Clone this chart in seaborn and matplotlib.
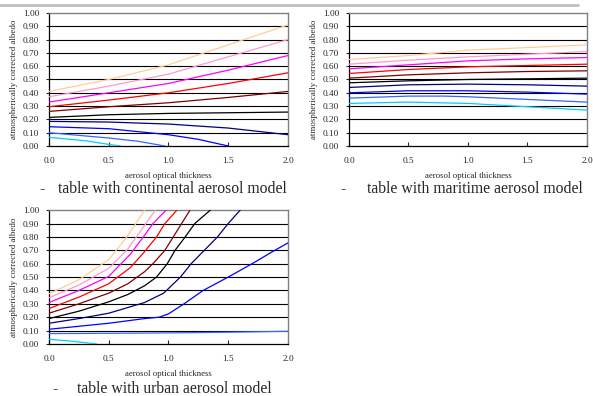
import matplotlib
matplotlib.use("Agg")
import matplotlib.pyplot as plt
from matplotlib.lines import Line2D
import seaborn as sns
import pandas as pd

# curve colours, from the highest albedo curve down to the lowest
curve_colors = ["#FFCC99", "#FF99CC", "#FF00FF", "#FF0000", "#800000",
                "#000000", "#000080", "#0000FF", "#3366FF", "#00CCFF"]

# continental aerosol model
cont_x = [
    [0, 0.5, 1.0, 1.5, 2.0],
    [0, 0.5, 1.0, 1.5, 2.0],
    [0, 0.5, 1.0, 1.5, 2.0],
    [0, 0.5, 1.0, 1.5, 2.0],
    [0, 0.5, 1.0, 1.5, 2.0],
    [0, 0.5, 1.0, 1.5, 2.0],
    [0, 0.5, 1.0, 1.5, 2.0],
    [0, 0.5, 1.0, 1.25, 1.5],
    [0, 0.5, 0.75, 0.97],
    [0, 0.3, 0.5, 0.6],
]
cont_y = [
    [0.41, 0.50, 0.61, 0.76, 0.91],
    [0.37, 0.45, 0.54, 0.67, 0.80],
    [0.33, 0.40, 0.47, 0.57, 0.68],
    [0.295, 0.345, 0.40, 0.47, 0.55],
    [0.26, 0.295, 0.325, 0.365, 0.41],
    [0.215, 0.235, 0.245, 0.25, 0.255],
    [0.185, 0.18, 0.165, 0.135, 0.085],
    [0.145, 0.13, 0.085, 0.05, 0.0],
    [0.10, 0.06, 0.035, 0.0],
    [0.065, 0.04, 0.012, 0.0],
]

# maritime aerosol model
mari_x = [
    [0, 0.5, 1.0, 1.5, 2.0],
    [0, 0.5, 1.0, 1.5, 2.0],
    [0, 0.5, 1.0, 1.5, 2.0],
    [0, 0.5, 1.0, 1.5, 2.0],
    [0, 0.5, 1.0, 1.5, 2.0],
    [0, 0.5, 1.0, 1.5, 2.0],
    [0, 0.5, 1.0, 1.5, 2.0],
    [0, 0.5, 1.0, 1.5, 2.0],
    [0, 0.5, 0.8, 1.0, 1.5, 2.0],
    [0, 0.5, 1.0, 1.5, 2.0],
]
mari_y = [
    [0.65, 0.68, 0.72, 0.74, 0.76],
    [0.615, 0.645, 0.67, 0.69, 0.71],
    [0.58, 0.61, 0.64, 0.655, 0.665],
    [0.545, 0.575, 0.595, 0.605, 0.615],
    [0.51, 0.535, 0.55, 0.56, 0.565],
    [0.475, 0.49, 0.50, 0.505, 0.51],
    [0.44, 0.46, 0.465, 0.46, 0.45],
    [0.40, 0.415, 0.415, 0.405, 0.39],
    [0.36, 0.375, 0.375, 0.37, 0.35, 0.33],
    [0.32, 0.33, 0.32, 0.295, 0.27],
]

# urban aerosol model
urb_x = [
    [0, 0.25, 0.5, 0.66, 0.8],
    [0, 0.25, 0.5, 0.66, 0.78, 0.89],
    [0, 0.25, 0.5, 0.68, 0.79, 0.87, 0.98],
    [0, 0.25, 0.5, 0.68, 0.8, 0.9, 0.97, 1.07],
    [0, 0.25, 0.5, 0.66, 0.8, 0.87, 0.97, 1.04, 1.11, 1.18],
    [0, 0.25, 0.5, 0.66, 0.8, 0.9, 0.99, 1.055, 1.14, 1.22, 1.35],
    [0, 0.25, 0.5, 0.8, 0.96, 1.1, 1.19, 1.30, 1.41, 1.50, 1.6],
    [0, 0.5, 0.8, 0.92, 1.0, 1.13, 1.29, 1.5, 1.72, 1.87, 2.0],
    [0, 0.5, 1.0, 1.5, 2.0],
    [0, 0.2, 0.4],
]
urb_y = [
    [0.375, 0.48, 0.63, 0.81, 1.0],
    [0.345, 0.44, 0.565, 0.71, 0.86, 1.0],
    [0.31, 0.40, 0.505, 0.67, 0.80, 0.90, 1.0],
    [0.265, 0.35, 0.45, 0.57, 0.69, 0.80, 0.90, 1.0],
    [0.23, 0.30, 0.38, 0.45, 0.54, 0.60, 0.70, 0.80, 0.90, 1.0],
    [0.19, 0.245, 0.315, 0.37, 0.435, 0.50, 0.60, 0.70, 0.80, 0.90, 1.0],
    [0.155, 0.19, 0.23, 0.31, 0.38, 0.50, 0.60, 0.70, 0.80, 0.90, 1.0],
    [0.11, 0.155, 0.19, 0.20, 0.225, 0.30, 0.40, 0.50, 0.61, 0.69, 0.755],
    [0.078, 0.08, 0.083, 0.088, 0.095],
    [0.035, 0.02, 0.0],
]

captions = ["table with continental aerosol model",
            "table with maritime aerosol model",
            "table with urban aerosol model"]

sns.set_style("white")
plt.rcParams["font.family"] = ["Liberation Serif", "DejaVu Serif"]

fig = plt.figure(figsize=(5.93, 3.96), dpi=100)

# panel boxes in figure fractions
boxes = [
    [0.0826, 0.6313, 0.403, 0.336],
    [0.5885, 0.6313, 0.4013, 0.336],
    [0.0826, 0.1313, 0.403, 0.338],
]
panels = [(cont_x, cont_y), (mari_x, mari_y), (urb_x, urb_y)]
caption_pos = [(0.071, 0.098, 0.523), (0.578, 0.619, 0.523), (0.093, 0.130, 0.017)]

for i, (box, (xs, ys)) in enumerate(zip(boxes, panels)):
    ax = fig.add_axes(box)
    rows = []
    for k, (xx, yy) in enumerate(zip(xs, ys)):
        for a, b in zip(xx, yy):
            rows.append({"curve": k, "x": a, "y": b})
    df = pd.DataFrame(rows)

    for yv in [j / 10 for j in range(1, 10)]:
        ax.axhline(yv, color="black", lw=0.8, zorder=1)

    sns.lineplot(data=df, x="x", y="y", hue="curve", palette=curve_colors,
                 estimator=None, sort=False, legend=False, lw=0.9, ax=ax,
                 zorder=3)

    ax.set_xlim(0, 2.0)
    ax.set_ylim(0, 1.0)
    ax.set_xticks([0, 0.5, 1.0, 1.5, 2.0])
    ax.set_xticklabels(["0.0", "0.5", "1.0", "1.5", "2.0"])
    ax.set_yticks([j / 10 for j in range(11)])
    ax.set_yticklabels([f"{j / 10:.2f}" for j in range(11)])
    ax.tick_params(axis="x", direction="in", length=3, width=0.8,
                   labelsize=6.7, pad=8, bottom=True)
    ax.tick_params(axis="y", direction="out", length=2, width=0.8,
                   labelsize=6.7, pad=5, left=True)
    ax.set_xlabel("aerosol optical thickness", fontsize=6.3, labelpad=5)
    ax.set_ylabel("atmospherically corrected albedo", fontsize=6.4, labelpad=3.5)
    for s in ["left", "bottom"]:
        ax.spines[s].set_color("black")
        ax.spines[s].set_linewidth(0.9)
    for s in ["top", "right"]:
        ax.spines[s].set_color("#808080")
        ax.spines[s].set_linewidth(1.0)

    dx, tx, ty = caption_pos[i]
    fig.text(dx, ty, "-", fontsize=11.3, ha="center", va="center")
    fig.text(tx, ty, captions[i], fontsize=11.3, ha="left", va="center")

# grey rule across the top of the page
fig.add_artist(Line2D([0.0, 0.975], [0.987, 0.987], color="#C0C0C0",
                      lw=2, transform=fig.transFigure))

fig.savefig("out.png", dpi=100)
